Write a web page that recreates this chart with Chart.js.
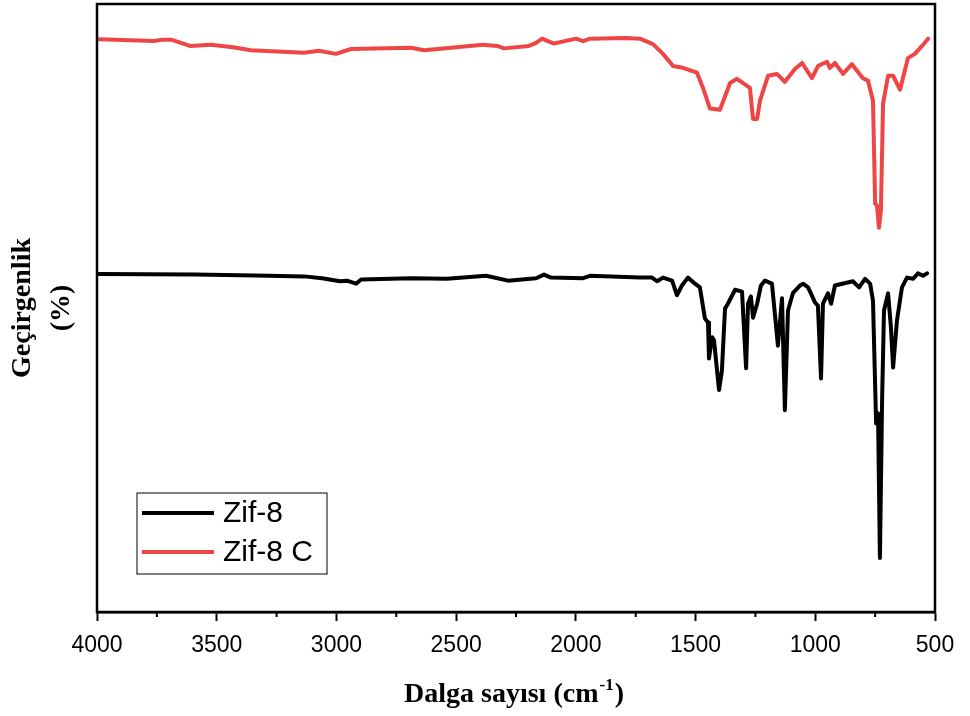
<!DOCTYPE html>
<html>
<head>
<meta charset="utf-8">
<script src="https://cdn.jsdelivr.net/npm/chart.js@4"></script>
<style>
  body { margin: 0; background: #fff; }
</style>
</head>
<body>
<canvas id="chart" width="970" height="716"></canvas>
<script>
// Zif-8 (black) - wavenumber (cm-1) and transmittance
const zif8Wn = [3992, 3591, 3282, 3135, 3060, 2985, 2956, 2918, 2897, 2689, 2538, 2375, 2283, 2166, 2133, 2104,
  1970, 1941, 1732, 1682, 1661, 1636, 1598, 1578, 1557, 1532, 1502, 1482, 1461, 1448, 1444, 1431, 1423, 1402,
  1390, 1377, 1365, 1335, 1306, 1289, 1281, 1269, 1260, 1243, 1227, 1210, 1181, 1164, 1156, 1139, 1127, 1114,
  1093, 1064, 1051, 1030, 1001, 989, 976, 968, 947, 934, 918, 843, 817, 792, 771, 759, 746, 738, 730, 721, 713,
  696, 684, 675, 659, 638, 617, 592, 571, 550, 533];
const zif8T = [55.6, 55.5, 55.3, 55.2, 54.9, 54.4, 54.5, 54.0, 54.7, 54.9, 54.8, 55.3, 54.5, 54.9, 55.5, 55.0,
  54.9, 55.3, 55.0, 55.0, 54.4, 55.0, 54.5, 52.1, 53.7, 55.0, 54.0, 53.4, 48.3, 47.6, 41.7, 45.2, 44.7, 36.5,
  39.7, 49.9, 50.7, 53.0, 52.7, 40.1, 50.7, 51.9, 48.4, 50.7, 53.7, 54.5, 54.0, 47.1, 43.8, 51.6, 33.2, 49.6,
  52.5, 53.7, 54.0, 53.4, 50.9, 50.4, 38.4, 50.7, 52.4, 50.7, 53.7, 54.4, 53.4, 54.8, 54.0, 51.2, 31.0, 32.7, 8.9, 34.8, 49.6,
  52.4, 46.8, 40.2, 47.9, 53.4, 55.0, 54.8, 55.7, 55.3, 55.7];

// Zif-8 C (red)
const zif8cWn = [3992, 3762, 3733, 3687, 3612, 3524, 3432, 3357, 3135, 3073, 3002, 2939, 2689, 2634, 2388, 2329,
  2300, 2196, 2166, 2141, 2112, 2091, 1999, 1970, 1941, 1791, 1732, 1678, 1636, 1594, 1553, 1494, 1469, 1440,
  1398, 1356, 1327, 1273, 1260, 1243, 1231, 1197, 1160, 1127, 1085, 1055, 1014, 989, 951, 939, 918, 884, 847,
  801, 780, 759, 750, 742, 734, 726, 717, 696, 675, 646, 613, 584, 554, 529];
const zif8cT = [94.2, 93.9, 94.1, 94.1, 93.1, 93.3, 92.9, 92.4, 92.0, 92.3, 91.8, 92.6, 92.8, 92.4, 93.3, 93.1,
  92.7, 93.1, 93.6, 94.3, 93.8, 93.5, 94.3, 93.9, 94.3, 94.4, 94.3, 93.4, 91.8, 89.8, 89.5, 88.7, 86.2, 82.8,
  82.6, 87.0, 87.7, 86.2, 81.1, 81.1, 84.1, 88.2, 88.5, 87.2, 89.3, 90.3, 87.8, 89.8, 90.5, 89.5, 90.3, 88.5, 90.1,
  87.8, 87.4, 84.1, 67.2, 66.8, 63.2, 66.0, 83.6, 88.2, 88.2, 85.9, 91.1, 91.8, 93.1, 94.3];

const majorTicks = [4000, 3500, 3000, 2500, 2000, 1500, 1000, 500];
const minorTicks = [3750, 3250, 2750, 2250, 1750, 1250, 750];

const toPoints = (xs, ys) => xs.map((v, i) => ({ x: v, y: ys[i] }));

// frame, minor ticks, legend box and axis titles
const decorations = {
  id: 'decorations',
  afterDraw(chart) {
    const { ctx, chartArea: a, scales: { x } } = chart;
    ctx.save();
    ctx.strokeStyle = '#000';
    ctx.lineWidth = 2.5;
    ctx.strokeRect(a.left, a.top, a.right - a.left, a.bottom - a.top);

    ctx.lineWidth = 2;
    minorTicks.forEach(v => {
      const px = x.getPixelForValue(v);
      ctx.beginPath();
      ctx.moveTo(px, a.bottom);
      ctx.lineTo(px, a.bottom + 5);
      ctx.stroke();
    });

    // legend
    const lx = a.left + 40, ly = a.bottom - 119;
    ctx.lineWidth = 1;
    ctx.strokeRect(lx, ly, 190, 81);
    ctx.font = '30px "Liberation Sans", Arial, sans-serif';
    ctx.textBaseline = 'middle';
    ctx.fillStyle = '#000';
    chart.data.datasets.forEach((ds, i) => {
      const yy = ly + 20 + i * 39;
      ctx.strokeStyle = ds.borderColor;
      ctx.lineWidth = 4;
      ctx.beginPath();
      ctx.moveTo(lx + 5, yy);
      ctx.lineTo(lx + 77, yy);
      ctx.stroke();
      ctx.fillText(ds.label, lx + 86, yy + 1);
    });

    // x title with superscript
    ctx.fillStyle = '#000';
    ctx.textBaseline = 'alphabetic';
    const big = 'bold 28px "Liberation Serif", "Times New Roman", serif';
    const small = 'bold 17px "Liberation Serif", "Times New Roman", serif';
    const t1 = 'Dalga sayısı (cm', t2 = '-1', t3 = ')';
    ctx.font = big;
    const w1 = ctx.measureText(t1).width, w3 = ctx.measureText(t3).width;
    ctx.font = small;
    const w2 = ctx.measureText(t2).width;
    let tx = (a.left + a.right) / 2 - (w1 + w2 + w3) / 2 - 3;
    const ty = 702;
    ctx.font = big;
    ctx.fillText(t1, tx, ty);
    ctx.font = small;
    ctx.fillText(t2, tx + w1 + 1, ty - 12);
    ctx.font = big;
    ctx.fillText(t3, tx + w1 + w2 + 2, ty);

    // y title, two lines, rotated
    ctx.translate(0, (a.top + a.bottom) / 2);
    ctx.rotate(-Math.PI / 2);
    ctx.textAlign = 'center';
    ctx.textBaseline = 'middle';
    ctx.fillText('Geçirgenlik', 0, 23);
    ctx.fillText('(%)', 0, 62);
    ctx.restore();
  }
};

new Chart(document.getElementById('chart'), {
  type: 'line',
  data: {
    datasets: [
      {
        label: 'Zif-8',
        data: toPoints(zif8Wn, zif8T),
        borderColor: '#000000',
      },
      {
        label: 'Zif-8 C',
        data: toPoints(zif8cWn, zif8cT),
        borderColor: '#f04545',
      },
    ],
  },
  options: {
    responsive: false,
    animation: false,
    layout: { padding: { left: 97, right: 35, top: 4, bottom: 44 } },
    elements: {
      point: { radius: 0 },
      line: { borderWidth: 4, tension: 0, borderJoinStyle: 'round', borderCapStyle: 'round' },
    },
    plugins: {
      legend: { display: false },
      tooltip: { enabled: false },
    },
    scales: {
      x: {
        type: 'linear',
        reverse: true,
        min: 500,
        max: 4000,
        afterBuildTicks: (s) => { s.ticks = majorTicks.map(v => ({ value: v })); },
        afterFit: (s) => { s.height = 60; },
        border: { display: true, color: '#000', width: 2.5 },
        grid: { drawOnChartArea: false, tickLength: 9, tickWidth: 2, tickColor: '#000' },
        ticks: {
          color: '#000',
          padding: 11,
          maxRotation: 0,
          autoSkip: false,
          callback: (v) => String(v),
          font: { family: '"Liberation Sans", Arial, sans-serif', size: 23 },
        },
      },
      y: {
        display: false,
        min: 0,
        max: 100,
      },
    },
  },
  plugins: [decorations],
});
</script>
</body>
</html>
